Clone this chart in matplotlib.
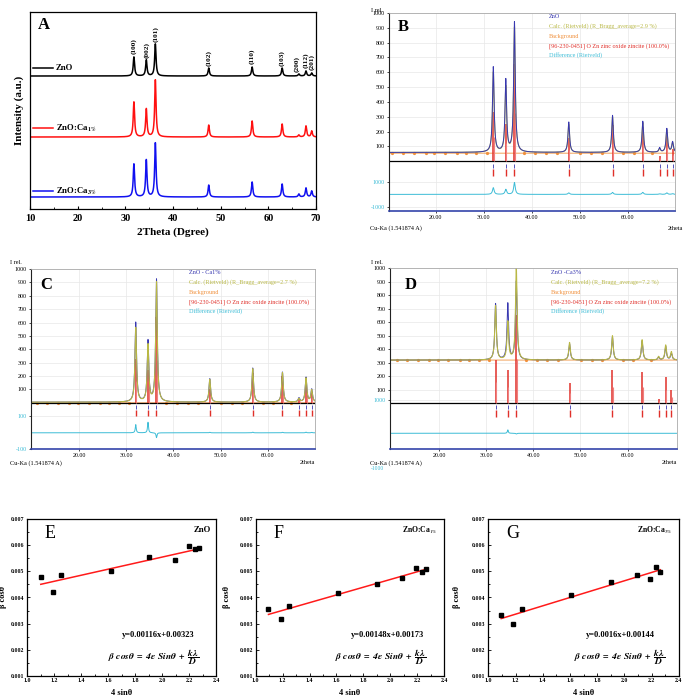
import numpy as np
import matplotlib
matplotlib.use('Agg')
import matplotlib.pyplot as plt
from matplotlib.ticker import MultipleLocator

W, H = 685, 700
plt.rcParams['font.family'] = ['Liberation Serif', 'DejaVu Serif']
plt.rcParams['mathtext.fontset'] = 'stix'

# ---- data ----
hkl = ['(100)', '(002)', '(101)', '(102)', '(110)', '(103)', '(200)', '(112)', '(201)']
peak_pos = [31.8, 34.4, 36.3, 47.5, 56.6, 62.9, 66.4, 67.9, 69.1]
samples = ['ZnO', 'ZnO:Ca$_{\\mathbf{1\\%}}$', 'ZnO:Ca$_{\\mathbf{3\\%}}$']
a_zno = [19, 16, 32, 8, 9, 8, 2, 5, 3]
a_ca1 = [35, 28, 57, 12, 16, 13, 2, 11, 6]
a_ca3 = [33, 37, 54, 12, 15, 13, 3, 9, 6]

riet_pos = [32.0, 34.6, 36.4, 47.7, 56.8, 63.1, 66.6, 68.1, 69.3]
b_obs = [635, 545, 935, 265, 310, 270, 90, 220, 130]
b_calc = [600, 500, 900, 250, 300, 260, 85, 210, 125]
b_sticks = [331, 250, 653, 154, 243, 228, 39, 200, 80]
b_diff = [530, 400, 940, 120, 160, 160, 40, 120, 60]

c_obs = [600, 460, 920, 180, 260, 230, 35, 190, 100]
c_calc = [560, 430, 900, 175, 255, 225, 30, 185, 95]
c_sticks = [330, 245, 645, 100, 220, 200, 30, 160, 80]
c_diff = [50, 65, -30, 3, 4, 3, 0, 4, 3]

d_obs = [735, 735, 900, 440, 490, 460, 340, 420, 370]
d_calc = [720, 600, 1000, 450, 500, 470, 345, 430, 380]
d_sticks = [322, 248, 655, 150, 245, 235, 30, 195, 100]
d_diff = [0, 300, -60, 0, 0, 0, 0, 0, 0]

bg_nodes = [11.0, 13.2, 15.5, 17.9, 19.7, 22.0, 24.4, 26.3, 28.5, 30.6, 38.4, 40.7,
            43.0, 45.2, 50.1, 52.4, 54.6, 59.0, 61.2, 65.0]

e_x = [1.10, 1.19, 1.25, 1.62, 1.905, 2.095, 2.20, 2.245, 2.275]
e_y = [0.00478, 0.00420, 0.00487, 0.00501, 0.00557, 0.00543, 0.00597, 0.00585, 0.00588]
f_x = [1.095, 1.185, 1.245, 1.615, 1.90, 2.09, 2.19, 2.235, 2.265]
f_y = [0.00354, 0.00319, 0.00367, 0.00419, 0.00452, 0.00474, 0.00513, 0.00497, 0.00511]
g_x = [1.095, 1.18, 1.245, 1.61, 1.90, 2.09, 2.19, 2.235, 2.265]
g_y = [0.00332, 0.00299, 0.00356, 0.00409, 0.00461, 0.00488, 0.00470, 0.00516, 0.00497]
fits = [(0.00116, 0.00323), (0.00148, 0.00173), (0.0016, 0.00144)]
fit_labels = ['y=0.00116x+0.00323', 'y=0.00148x+0.00173', 'y=0.0016x+0.00144']

OBS = '#3838b0'
CALC = '#b9b845'
BG = '#f0903c'
REF = '#e0302a'
DIFF = '#3cbcd6'


def box(l, t, r, b):
    return [l / W, 1 - b / H, (r - l) / W, (b - t) / H]


def ftext(x, y, s, **kw):
    fig.text(x / W, 1 - y / H, s, **kw)


def profile(x, pos, heights, hw):
    y = np.zeros_like(x)
    for p, h in zip(pos, heights):
        y += h / (1 + ((x - p) / hw) ** 2)
    return y


fig = plt.figure(figsize=(6.85, 7.0), dpi=100)

# ---- A ----
axA = fig.add_axes(box(30, 12, 316, 209))
x = np.linspace(10, 70, 4000)
bases = [133, 72, 12]
colors = ['black', '#ff1010', '#1010f0']
for amps, base, col in zip([a_zno, a_ca1, a_ca3], bases, colors):
    axA.plot(x, base + profile(x, peak_pos, amps, 0.17), color=col, lw=1.1)
for i, lab in enumerate(hkl):
    xp = peak_pos[i] - [0, 0, 0, 0, 0, 0, 0.5, 0, 0][i]
    axA.text(xp, bases[0] + a_zno[i] + 2.5, lab, rotation=90, ha='center', va='bottom',
             fontsize=5.2, fontweight='bold')
axA.set_xlim(10, 70)
axA.set_ylim(0, 197)
axA.set_yticks([])
axA.xaxis.set_major_locator(MultipleLocator(10))
axA.xaxis.set_minor_locator(MultipleLocator(5))
axA.tick_params(axis='x', which='both', direction='in', labelsize=7.5, length=2.5)
axA.tick_params(axis='x', which='minor', length=1.5)
for t in axA.get_xticklabels():
    t.set_fontweight('bold')
axA.set_xlabel('2Theta (Dgree)', fontsize=8, fontweight='bold', labelpad=3)
axA.set_ylabel('Intensity (a.u.)', fontsize=8, fontweight='bold', labelpad=4)
for sp in axA.spines.values():
    sp.set_linewidth(0.9)
ftext(38, 25, 'A', fontsize=12, fontweight='bold', va='center')
leg_y = [68, 128, 191]
for s, yy, col in zip(samples, leg_y, colors):
    fig.add_artist(plt.Line2D([33 / W, 53 / W], [1 - yy / H, 1 - yy / H], color=col, lw=1.1))
    ftext(56, yy, s, fontsize=6.3, fontweight='bold', va='center')


# ---- Rietveld panels ----
def rietveld(rect, xlim, ylim, obs, calc, base, bg, sticks, diff, dscale, dzero, dhw,
             cyan_ticks, calc_top):
    ax = fig.add_axes(rect)
    xx = np.linspace(xlim[0], xlim[1], 4000)
    y_obs = base + profile(xx, riet_pos, [v - base for v in obs], 0.2)
    y_calc = base + profile(xx, riet_pos, [v - base for v in calc], 0.2)
    ax.grid(True, color='#e8e8e8', lw=0.5)
    ax.set_axisbelow(True)
    ax.plot(xx, np.full_like(xx, bg), color=BG, lw=0.6)
    ax.plot(bg_nodes, [bg] * len(bg_nodes), 'o', color=BG, ms=1.3)
    ax.axhline(0, color='black', lw=0.9)
    ax.vlines(riet_pos, 0, sticks, color=REF, lw=1.1)
    ax.vlines([p + 0.12 for p in riet_pos], 0, [s * 0.5 for s in sticks], color='#f08080', lw=0.8)
    if calc_top:
        ax.plot(xx, y_obs, color=OBS, lw=0.7)
        ax.plot(xx, y_calc, color=CALC, lw=0.8)
    else:
        ax.plot(xx, y_calc, color=CALC, lw=0.8)
        ax.plot(xx, y_obs, color=OBS, lw=0.7)
    ax.vlines(riet_pos, -45, -15, color=OBS, lw=0.6)
    ax.vlines(riet_pos, -100, -52, color=REF, lw=1.0)
    y_diff = dzero + dscale * profile(xx, riet_pos, diff, dhw)
    ax.plot(xx, y_diff, color=DIFF, lw=0.7)
    ax.set_xlim(*xlim)
    ax.set_ylim(*ylim)
    ax.set_xticks([20, 30, 40, 50, 60])
    ax.set_xticklabels(['20.00', '30.00', '40.00', '50.00', '60.00'])
    ticks = list(range(100, 1001, 100)) + [v for v, _ in cyan_ticks]
    labels = [str(v) for v in range(100, 1001, 100)] + [s for _, s in cyan_ticks]
    ax.set_yticks(ticks)
    ax.set_yticklabels(labels)
    for t in ax.get_yticklabels()[10:]:
        t.set_color(DIFF)
    ax.tick_params(labelsize=4.3, length=1.5, width=0.5, pad=1.5)
    ax.spines['left'].set_color('#222222')
    ax.spines['bottom'].set_color('#3344aa')
    ax.spines['bottom'].set_linewidth(1.2)
    for s in ['top', 'right']:
        ax.spines[s].set_color('#aaaaaa')
        ax.spines[s].set_linewidth(0.6)
    return ax


legend_cols = [OBS, CALC, BG, REF, DIFF]


def legend(x0, y0, names):
    for i, (n, c) in enumerate(zip(names, legend_cols)):
        ftext(x0, y0 + i * 9.6, n, fontsize=4.4, color=c, va='center')


rietveld(box(389, 13, 675, 211), (10.3, 69.8), (-335, 1000), b_obs, b_calc, 60, 55,
         b_sticks, b_diff, 0.085, -223, 0.2, [(-138, '1000'), (-308, '-1000')], False)
legend(549, 17, ['ZnO', 'Calc. (Rietveld) (R_Bragg_average=2.9 %)', 'Background',
                 '[96-230-0451] O Zn zinc oxide zincite (100.0%)', 'Difference (Rietveld)'])
ftext(403, 27, 'B', fontsize=12, fontweight='bold', ha='center', va='center')
ftext(371, 10, 'I rel.', fontsize=4.5, va='center')
ftext(370, 228, 'Cu-Ka (1.541874 A)', fontsize=4.5, va='center')
ftext(668, 228, '2theta', fontsize=4.5, va='center')

rietveld(box(31, 269, 315, 449), (9.8, 70.0), (-345, 1000), c_obs, c_calc, 5, 0,
         c_sticks, c_diff, 1.22, -224, 0.12, [(-100, '100'), (-345, '-100')], True)
legend(189, 273, ['ZnO - Ca1%', 'Calc. (Rietveld) (R_Bragg_average=2.7 %)', 'Background',
                  '[96-230-0451] O Zn zinc oxide zincite (100.0%)', 'Difference (Rietveld)'])
ftext(46, 285, 'C', fontsize=12, fontweight='bold', ha='center', va='center')
ftext(10, 262, 'I rel.', fontsize=4.5, va='center')
ftext(10, 463, 'Cu-Ka (1.541874 A)', fontsize=4.5, va='center')
ftext(300, 463, '2theta', fontsize=4.5, va='center')

rietveld(box(390, 268, 677, 449), (9.6, 70.5), (-337, 1000), d_obs, d_calc, 320, 320,
         d_sticks, d_diff, 0.085, -221, 0.12, [(26, '1000')], True)
legend(551, 273, ['ZnO -Ca3%', 'Calc. (Rietveld) (R_Bragg_average=7.2 %)', 'Background',
                  '[96-230-0451] O Zn zinc oxide zincite (100.0%)', 'Difference (Rietveld)'])
ftext(411, 285, 'D', fontsize=12, fontweight='bold', ha='center', va='center')
ftext(371, 262, 'I rel.', fontsize=4.5, va='center')
ftext(370, 463, 'Cu-Ka (1.541874 A)', fontsize=4.5, va='center')
ftext(371, 468, '-1000', fontsize=4.0, color=DIFF, va='center')
ftext(662, 463, '2theta', fontsize=4.5, va='center')

# ---- E, F, G ----
lin_rects = [box(27.3, 519.3, 216, 675.7), box(255.7, 519.3, 444, 675.7),
             box(488.3, 519.3, 678.7, 675.7)]
letters = ['E', 'F', 'G']
letter_x = [45, 274, 506]
name_x = [211, 438, 673]
names = ['ZnO', 'ZnO:Ca$_{1\\%}$', 'ZnO:Ca$_{3\\%}$']
fit_cx = [158, 387, 620]
eq_cx = [154, 381, 620]
ylab_x = [-0.11, -0.13, -0.145]
for k, (xs, ys) in enumerate([(e_x, e_y), (f_x, f_y), (g_x, g_y)]):
    ax = fig.add_axes(lin_rects[k])
    m, c = fits[k]
    xl = np.array([xs[0], xs[-1]])
    ax.plot(xl, m * xl + c, color='#ff1a1a', lw=1.1)
    ax.plot(xs, ys, 's', color='black', ms=3)
    ax.set_xlim(1.0, 2.4)
    ax.set_ylim(0.001, 0.007)
    ax.xaxis.set_major_locator(MultipleLocator(0.2))
    ax.xaxis.set_minor_locator(MultipleLocator(0.1))
    ax.yaxis.set_major_locator(MultipleLocator(0.001))
    ax.yaxis.set_minor_locator(MultipleLocator(0.0005))
    ax.xaxis.set_major_formatter(matplotlib.ticker.FormatStrFormatter('%.1f'))
    ax.yaxis.set_major_formatter(matplotlib.ticker.FormatStrFormatter('%.3f'))
    ax.tick_params(which='both', direction='in', labelsize=4.2, width=0.6, pad=2)
    ax.tick_params(which='major', length=2.5)
    ax.tick_params(which='minor', length=1.5)
    for t in ax.get_xticklabels() + ax.get_yticklabels():
        t.set_fontweight('bold')
    for sp in ax.spines.values():
        sp.set_linewidth(0.9)
    ax.set_xlabel('4 sinθ', fontsize=6, fontweight='bold', labelpad=4)
    ax.set_ylabel('β cosθ', fontsize=6, fontweight='bold')
    ax.yaxis.set_label_coords(ylab_x[k], 0.5)
    ftext(letter_x[k], 534, letters[k], fontsize=13, va='center')
    ftext(name_x[k], 530, names[k], fontsize=6.3 if k == 0 else 5.5, fontweight='bold',
          ha='right', va='center')
    ftext(fit_cx[k], 635, fit_labels[k], fontsize=6, fontweight='bold', ha='center', va='center')
    ftext(eq_cx[k], 657, r'$\mathbfit{\beta\ cos\theta\ =\ 4\varepsilon\ Sin\theta\ +\ \dfrac{k\lambda}{D}}$',
          fontsize=6.8, ha='center', va='center')

fig.savefig('out.png', dpi=100)
